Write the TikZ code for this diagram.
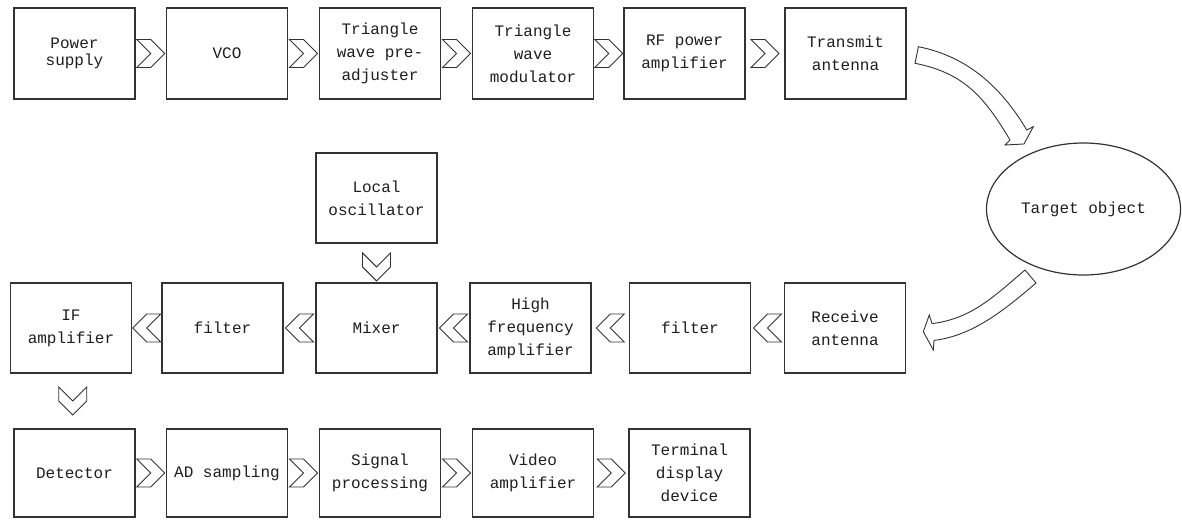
\documentclass[tikz,border=0pt]{standalone}
\usepackage{fontspec}
\setmainfont{Liberation Mono}
\usetikzlibrary{shapes.geometric,calc}
\definecolor{linec}{HTML}{333333}
\definecolor{txtc}{HTML}{1E1E1E}
\begin{document}
\begin{tikzpicture}[x=1pt,y=-1pt,
  box/.style={draw=linec, line width=1.2pt, fill=white, inner sep=0pt,
    minimum width=121pt, minimum height=90pt, align=center, text=txtc,
    font={\fontsize{16}{23}\selectfont}},
  chevline/.style={draw=linec, line width=0.9pt, fill=white, line join=miter},
  blockarrow/.style={draw=linec, line width=0.9pt, fill=white, line join=miter},
  chev/.pic={\path[chevline] (-14,-14) -- (0,-14) -- (14,0) -- (0,14) -- (-14,14) -- (0,0) -- cycle;}
]
\useasboundingbox (0,0) rectangle (1182,519);

% Row 1
\node[box, minimum height=91pt, font={\fontsize{16}{17}\selectfont}] (ps) at (74.5,53.5) {Power\\supply};
\node[box, minimum height=91pt] (vco) at (227,53.5) {VCO};
\node[box, minimum height=91pt] (tpa) at (380,53.5) {Triangle\\wave pre-\\adjuster};
\node[box, minimum height=91pt] (tm) at (533,53.5) {Triangle\\wave\\modulator};
\node[box, minimum height=91pt] (rf) at (684.5,53.5) {RF power\\amplifier};
\node[box, minimum height=91pt] (ta) at (845.5,53.5) {Transmit\\antenna};

% Target
\node[ellipse, draw=linec, line width=1.2pt, minimum width=194pt, minimum height=132pt,
  inner sep=0pt, text=txtc, font={\fontsize{16}{23}\selectfont}] (tgt) at (1083.5,209) {Target object};

% Local oscillator
\node[box] (lo) at (376.5,198) {Local\\oscillator};

% Row 2
\node[box] (ifa) at (71,328) {IF\\amplifier};
\node[box] (f1) at (222.5,328) {filter};
\node[box] (mix) at (376.5,328) {Mixer};
\node[box] (hfa) at (530.5,328) {High\\frequency\\amplifier};
\node[box] (f2) at (690,328) {filter};
\node[box] (ra) at (845,328) {Receive\\antenna};

% Row 3
\node[box, minimum height=88pt] (det) at (74.5,473) {Detector};
\node[box, minimum height=88pt] (ad) at (227,473) {AD sampling};
\node[box, minimum height=88pt] (sp) at (380,473) {Signal\\processing};
\node[box, minimum height=88pt] (va) at (533,473) {Video\\amplifier};
\node[box, minimum height=88pt] (tdd) at (689.5,473) {Terminal\\display\\device};

% Chevrons row 1
\pic at ($(ps.east)!0.5!(vco.west)$) {chev};
\pic at ($(vco.east)!0.5!(tpa.west)$) {chev};
\pic at ($(tpa.east)!0.5!(tm.west)$) {chev};
\pic at ($(tm.east)!0.5!(rf.west)$) {chev};
\pic at ($(rf.east)!0.5!(ta.west)$) {chev};

% Chevrons row 2 (leftwards)
\pic[rotate=180] at ($(ra.west)!0.5!(f2.east)$) {chev};
\pic[rotate=180] at ($(f2.west)!0.5!(hfa.east)$) {chev};
\pic[rotate=180] at ($(hfa.west)!0.5!(mix.east)$) {chev};
\pic[rotate=180] at ($(mix.west)!0.5!(f1.east)$) {chev};
\pic[rotate=180] at ($(f1.west)!0.5!(ifa.east)$) {chev};

% Downward chevrons
\pic[rotate=-90] at ($(lo.south)!0.6!(mix.north)$) {chev};
\pic[rotate=-90] at ($(ifa.south)!0.5!(det.north)$) {chev};

% Chevrons row 3
\pic at ($(det.east)!0.5!(ad.west)$) {chev};
\pic at ($(ad.east)!0.5!(sp.west)$) {chev};
\pic at ($(sp.east)!0.5!(va.west)$) {chev};
\pic at ($(va.east)!0.5!(tdd.west)$) {chev};

% Curved block arrow: transmit antenna -> target
\path[blockarrow] (918.4,46.7) .. controls (967.4,56.5) and (1001.2,87) .. (1026.7,130)
  -- (1033.3,126.7) -- (1024,144) -- (1005,145) -- (1010,140)
  .. controls (984.4,97) and (964,73) .. (915,63.3) -- cycle;

% Curved block arrow: target -> receive antenna
\path[blockarrow] (1025,270) .. controls (994.5,296) and (971.6,318.8) .. (932,323.6)
  -- (929.3,315) -- (923.3,331.7) -- (933.3,350) -- (934,340.4)
  .. controls (973.6,335.6) and (1005.5,309) .. (1036,283) -- cycle;
\end{tikzpicture}
\end{document}
